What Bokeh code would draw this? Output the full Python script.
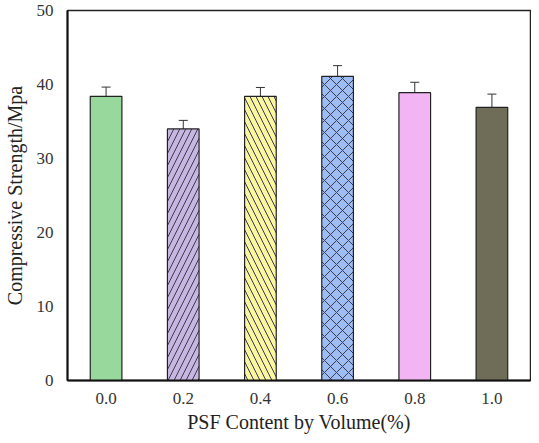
from bokeh.plotting import figure
from bokeh.models import ColumnDataSource, Whisker, TeeHead, Range1d, FixedTicker
from bokeh.embed import file_html
from bokeh.resources import INLINE

categories = ["0.0", "0.2", "0.4", "0.6", "0.8", "1.0"]
strength = [38.4, 34.0, 38.4, 41.1, 38.9, 36.9]
error = [1.25, 1.15, 1.2, 1.45, 1.4, 1.8]
colors = ["#99d89c", "#c8b6e2", "#fbf7a0", "#9fbdf5", "#f2b4f2", "#6f6d58"]
hatches = [" ", "/", "\\", "x", " ", " "]
y_ticks = [0, 10, 20, 30, 40, 50]

upper = [v + e for v, e in zip(strength, error)]
lower = [v - e for v, e in zip(strength, error)]

src = ColumnDataSource(dict(x=categories, top=strength, color=colors, hatch=hatches,
                            upper=upper, lower=lower))

p = figure(x_range=categories, y_range=Range1d(0, 50), width=531, height=435,
           output_backend="svg", toolbar_location=None,
           min_border_left=63, min_border_right=1, min_border_top=10, min_border_bottom=40)

p.vbar(x="x", top="top", width=0.41, source=src, fill_color="color",
       line_color="#222222", line_width=1.2,
       hatch_pattern="hatch", hatch_color="#3a3a4a", hatch_scale=12, hatch_weight=1)

w = Whisker(source=src, base="x", upper="upper", lower="lower",
            line_color="#333333", line_width=1,
            upper_head=TeeHead(size=9, line_color="#333333", line_width=1),
            lower_head=TeeHead(size=9, line_color="#333333", line_width=1))
p.add_layout(w)

p.xgrid.visible = False
p.ygrid.visible = False
p.outline_line_color = "#222222"
p.outline_line_width = 1.5

p.yaxis.ticker = FixedTicker(ticks=y_ticks)
for ax in (p.xaxis, p.yaxis):
    ax.major_tick_line_color = None
    ax.minor_tick_line_color = None
    ax.axis_line_color = "#111111"
    ax.axis_line_width = 2
    ax.major_label_text_font = "Liberation Serif"
    ax.major_label_text_font_size = "17px"
    ax.major_label_text_color = "#333333"
    ax.axis_label_text_font = "Liberation Serif"
    ax.axis_label_text_font_size = "20px"
    ax.axis_label_text_font_style = "normal"
    ax.axis_label_text_color = "#222222"

p.xaxis.axis_label = "PSF Content by Volume(%)"
p.yaxis.axis_label = "Compressive Strength/Mpa"
p.xaxis.major_label_standoff = 6
p.yaxis.major_label_standoff = 8
p.xaxis.axis_label_standoff = 4
p.yaxis.axis_label_standoff = 8

open("out.html", "w").write(file_html(p, INLINE))
